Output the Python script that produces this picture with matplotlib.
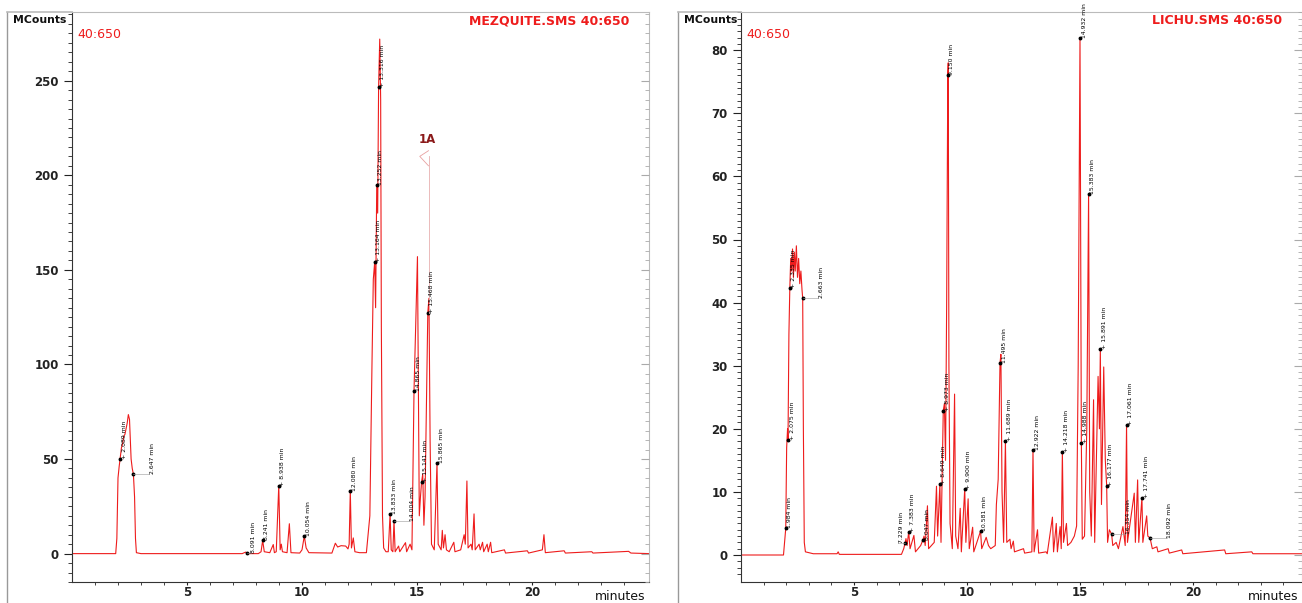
import matplotlib.pyplot as plt
from matplotlib.lines import Line2D

# Chromatogram MEZQUITE.SMS 40:650 (vľavo) a LICHU.SMS 40:650 (vpravo)

mez_t = [0, 1.90, 1.95, 2.00, 2.05, 2.09, 2.15, 2.20, 2.25, 2.30, 2.35, 2.40, 2.45, 2.50, 2.53, 2.57,
         2.62, 2.67, 2.72, 2.76, 2.80, 3.0, 7.4, 7.55, 7.65, 8.1, 8.22, 8.29, 8.36, 8.6, 8.75, 8.80,
         8.88, 8.99, 9.05, 9.10, 9.15, 9.35, 9.45, 9.52, 9.9, 10.0, 10.10, 10.18, 10.3, 11.3, 11.45,
         11.55, 11.7, 11.9, 12.0, 12.05, 12.10, 12.15, 12.23, 12.30, 12.5, 12.8, 12.95, 13.04, 13.10,
         13.16, 13.20, 13.25, 13.29, 13.33, 13.38, 13.42, 13.45, 13.50, 13.55, 13.65, 13.75, 13.83,
         13.88, 13.95, 14.00, 14.05, 14.2, 14.25, 14.5, 14.55, 14.7, 14.78, 14.87, 15.02, 15.1, 15.15,
         15.2, 15.25, 15.3, 15.35, 15.47, 15.52, 15.57, 15.63, 15.75, 15.87, 15.92, 16.05, 16.10,
         16.15, 16.22, 16.28, 16.4, 16.6, 16.65, 16.9, 17.05, 17.1, 17.17, 17.22, 17.35, 17.4, 17.48,
         17.53, 17.7, 17.75, 17.85, 17.9, 18.05, 18.1, 18.2, 18.25, 18.8, 18.85, 19.8, 19.85, 20.45,
         20.52, 20.58, 21.4, 21.45, 22.6, 22.65, 24.2, 24.3, 25.1]
mez_v = [0, 0, 8, 40, 46, 50, 56, 58, 62, 63, 66, 69, 73.5, 71, 62, 50,
         45, 42, 30, 8, 0.5, 0, 0, 0.8, 0, 0, 1, 7, 1, 0.5, 4.8, 0.5,
         1, 36, 2, 5, 1, 0.5, 15.8, 0.5, 0.3, 2, 9.3, 3, 0.5, 0.3, 5.5,
         3.5, 4.2, 4, 2.5, 5, 33.3, 3, 8.3, 1, 0.5, 0.5, 20, 98, 145,
         154, 130, 195, 180, 246.5, 272, 240, 120, 20, 3, 1, 1, 21,
         2, 1, 17.2, 1, 4, 1, 5.8, 1, 5, 2, 85.8, 157, 20, 30,
         38, 42, 15, 30, 127.4, 135, 60, 5, 2, 48, 5, 2, 12.3,
         3, 10, 2, 1, 6, 1, 2, 10, 5, 38.4, 3, 5, 2, 21,
         2, 5, 2, 6, 1, 5, 1, 6, 0.5, 2, 0.3, 1.5, 0.3, 2,
         10, 0.5, 1.5, 0.3, 1, 0.3, 1.2, 0.3, 0]

lic_t = [0, 1.88, 1.95, 1.98, 2.02, 2.06, 2.08, 2.12, 2.16, 2.20, 2.24, 2.28, 2.32, 2.36, 2.40, 2.45,
         2.50, 2.55, 2.60, 2.65, 2.70, 2.73, 2.76, 2.80, 2.85, 3.2, 4.25, 4.3, 4.35, 7.1, 7.2, 7.26,
         7.3, 7.35, 7.42, 7.48, 7.65, 7.72, 7.95, 8.05, 8.1, 8.15, 8.25, 8.3, 8.55, 8.65, 8.7, 8.8,
         8.85, 8.95, 9.0, 9.05, 9.1, 9.15, 9.17, 9.2, 9.25, 9.35, 9.45, 9.5, 9.6, 9.7, 9.75, 9.9,
         9.95, 10.05, 10.1, 10.25, 10.3, 10.6, 10.65, 10.85, 10.95, 11.05, 11.25, 11.3, 11.38, 11.46,
         11.5, 11.55, 11.62, 11.7, 11.76, 11.9, 11.95, 12.05, 12.1, 12.5, 12.55, 12.87, 12.92, 12.97,
         13.12, 13.17, 13.5, 13.55, 13.78, 13.83, 13.95, 14.0, 14.12, 14.17, 14.22, 14.27, 14.4, 14.45,
         14.6, 14.75, 14.85, 14.92, 15.0, 15.04, 15.06, 15.1, 15.2, 15.3, 15.38, 15.43, 15.5, 15.6,
         15.65, 15.8, 15.86, 15.9, 15.95, 16.05, 16.12, 16.18, 16.22, 16.3, 16.4, 16.45, 16.6, 16.7,
         16.9, 17.0, 17.06, 17.1, 17.4, 17.45, 17.55, 17.6, 17.74, 17.78, 17.95, 18.0, 18.1, 18.2,
         18.4, 18.45, 18.9, 18.95, 19.5, 19.55, 21.4, 21.45, 22.6, 22.65, 24.8]
lic_v = [0, 0, 3, 4.2, 17, 20, 18.2, 35, 42.3, 47, 45, 48.5, 44, 48, 45, 49,
         44, 47, 43, 45, 42, 40.7, 20, 2, 0.5, 0.2, 0.2, 0.5, 0.1, 0.1, 1, 1.9,
         2.6, 1.5, 3.7, 1, 3.1, 0.5, 1.5, 2.4, 3, 1.5, 7.8, 1, 2, 10.9, 3, 11.3,
         2, 22.9, 24, 15, 40, 76, 78, 30, 5, 1, 25.5, 3, 1, 7.4, 0.5, 10.5,
         2, 8.9, 1, 4.4, 0.5, 3.8, 1, 2.8, 1.5, 1, 1.5, 8, 12, 30.4,
         31.8, 10, 2, 18, 2, 2.5, 1, 2.2, 0.5, 1, 0.3, 0.5, 16.7, 0.5,
         4.0, 0.3, 0.5, 0.2, 6, 0.5, 5, 0.5, 4.5, 1, 16.4, 2, 5, 1.5,
         2, 3, 4.6, 30, 82, 40, 17.7, 2.5, 3, 20, 57.2, 10, 3, 24.6,
         2, 28.3, 20, 32.6, 8, 29.8, 15, 11, 2, 4, 3.3, 1.5, 2, 1,
         4.5, 1.5, 20.6, 2, 9.8, 2, 11.9, 2, 9.1, 2, 6.2, 3, 2.7, 1,
         1.3, 0.5, 1, 0.3, 0.8, 0.2, 0.8, 0.2, 0.5, 0.2, 0.2]

# popisky píkov: čas, hodnota, text
mez_lab_t = [2.09, 8.29, 8.99, 10.10, 12.10, 13.16, 13.25, 13.33, 13.83, 14.87, 15.2, 15.47, 15.87]
mez_lab_v = [50, 7, 36, 9.3, 33.3, 154, 195, 246.5, 21, 85.8, 38, 127.4, 48]
mez_lab = ["+ 2.089 min", "8.241 min", "+ 8.938 min", "10.054 min", "12.080 min", "+ 13.164 min",
           "13.252 min", "+ 13.316 min", "13.833 min", "14.865 min", "+ 15.141 min",
           "+ 15.468 min", "15.865 min"]
# popisky posunuté bokom (čas bodu, hodnota, čas textu, text)
mez_off = [(2.67, 42, 3.35, "2.647 min"), (7.6, 0.5, 7.78, "8.091 min"), (14.00, 17.2, 14.68, "14.004 min")]

lic_lab_t = [1.98, 2.08, 2.16, 7.42, 8.05, 8.8, 8.95, 9.15, 9.9, 10.6, 11.46, 11.7, 12.92, 14.22,
             15.0, 15.06, 15.38, 15.9, 16.18, 17.06, 17.74]
lic_lab_v = [4.2, 18.2, 42.3, 3.7, 2.4, 11.3, 22.9, 76, 10.5, 3.8, 30.4, 18, 16.7, 16.4,
             82, 17.7, 57.2, 32.6, 11, 20.6, 9.1]
lic_lab = ["1.984 min", "+ 2.075 min", "+ 2.335 min", "+ 7.383 min", "8.047 min", "+ 8.649 min",
           "+ 8.973 min", "9.150 min", "+ 9.900 min", "10.581 min", "11.495 min", "+ 11.689 min",
           "12.922 min", "+ 14.218 min", "14.932 min", "+ 14.988 min", "15.383 min", "+ 15.891 min",
           "+ 16.177 min", "+ 17.061 min", "+ 17.741 min"]
lic_off = [(2.73, 40.7, 3.42, "2.663 min"), (7.26, 1.9, 6.95, "7.229 min"),
           (16.4, 3.3, 17.0, "16.354 min"), (18.1, 2.7, 18.85, "18.092 min")]

RED = '#ee1c1c'
W, H = 1302, 603
fig = plt.figure(figsize=(W / 100, H / 100), dpi=100)


def panel(x0, x_frame, x_right, pxmin, y0px, pxunit, title, t, v, lt, lv, ltxt, loff, major, minor):
    ax = fig.add_axes([x0 / W, 21 / H, (x_right - x0) / W, 570 / H])
    ax.plot(t, v, color=RED, lw=0.8)
    ax.set_xlim(0, (x_right - x0) / pxmin)
    ax.set_ylim(-(582 - y0px) / pxunit, (y0px - 12) / pxunit)
    ax.set_xticks([5, 10, 15, 20])
    ax.set_xticks(range(1, 25), minor=True)
    yt = list(range(0, int((y0px - 12) / pxunit), major))
    ax.set_yticks(yt)
    ax.set_yticks([i * minor for i in range(-3, int((y0px - 12) / pxunit / minor) + 1)], minor=True)
    ax.tick_params(which='both', direction='out', labelsize=8.5, colors='#222222')
    ax.tick_params(axis='y', which='major', length=6)
    ax.tick_params(axis='y', which='minor', length=3)
    ax.tick_params(axis='x', which='both', length=2.5, pad=0.5)
    for lab in ax.get_xticklabels() + ax.get_yticklabels():
        lab.set_fontweight('bold')
    for s in ['top', 'right']:
        ax.spines[s].set_color('#bbbbbb')
    ax.spines['left'].set_color('#333333')
    ax.spines['bottom'].set_color('#333333')
    tw = ax.twinx()
    tw.set_ylim(ax.get_ylim())
    tw.set_yticks(ax.get_yticks())
    tw.set_yticks(ax.get_yticks(minor=True), minor=True)
    tw.tick_params(which='both', direction='in', labelright=False, colors='#aaaaaa')
    tw.tick_params(which='major', length=6)
    tw.tick_params(which='minor', length=3)
    for s in tw.spines.values():
        s.set_visible(False)

    ax.plot(lt, lv, 'o', ms=1.8, color='black')
    for ti, vi, s in zip(lt, lv, ltxt):
        ax.text(ti + 0.07, vi, s, rotation=90, rotation_mode='anchor', ha='left', va='top',
                fontsize=4.4, color='black', clip_on=False)
    for ti, vi, tx, s in loff:
        ax.plot([ti], [vi], 'o', ms=1.8, color='black')
        ax.plot([ti, tx], [vi, vi], color='#999999', lw=0.4)
        ax.text(tx + 0.02, vi, s, rotation=90, rotation_mode='anchor', ha='left', va='top',
                fontsize=4.4, color='black', clip_on=False)

    # rámik panelu
    fig.add_artist(Line2D([x_frame / W, x_frame / W], [0, (H - 12) / H], color='#999999', lw=1))
    fig.add_artist(Line2D([x_frame / W, x0 / W], [(H - 12) / H] * 2, color='#bbbbbb', lw=1.2))
    fig.text((x_frame + 6) / W, (H - 20) / H, 'MCounts', fontsize=7.8, fontweight='bold',
             va='center', ha='left', color='#111111')
    fig.text((x0 + 5) / W, (H - 34) / H, '40:650', fontsize=9, va='center', ha='left', color=RED)
    fig.text((x_right - 20) / W, (H - 21) / H, title, fontsize=9, fontweight='bold',
             va='center', ha='right', color=RED)
    fig.text((x_right - 4) / W, (H - 596) / H, 'minutes', fontsize=9, va='center', ha='right',
             color='#111111')
    return ax


ax1 = panel(72, 7, 649, 23.0, 556, 1.9, 'MEZQUITE.SMS 40:650', mez_t, mez_v,
            mez_lab_t, mez_lab_v, mez_lab, mez_off, 50, 5)
ax2 = panel(741, 678, 1302, 22.6, 555, 6.31, 'LICHU.SMS 40:650', lic_t, lic_v,
            lic_lab_t, lic_lab_v, lic_lab, lic_off, 10, 1)

# značka 1A
ax1.plot([15.5, 15.5], [127.4, 210], color='#e8b0b0', lw=0.6)
ax1.plot([15.5, 15.12, 15.5], [213, 210, 205], color='#e8a0a0', lw=0.6)
ax1.text(15.45, 219, '1A', fontsize=8.5, fontweight='bold', color='#8b1a1a', ha='center', va='center')

fig.savefig('out.png', dpi=100)
